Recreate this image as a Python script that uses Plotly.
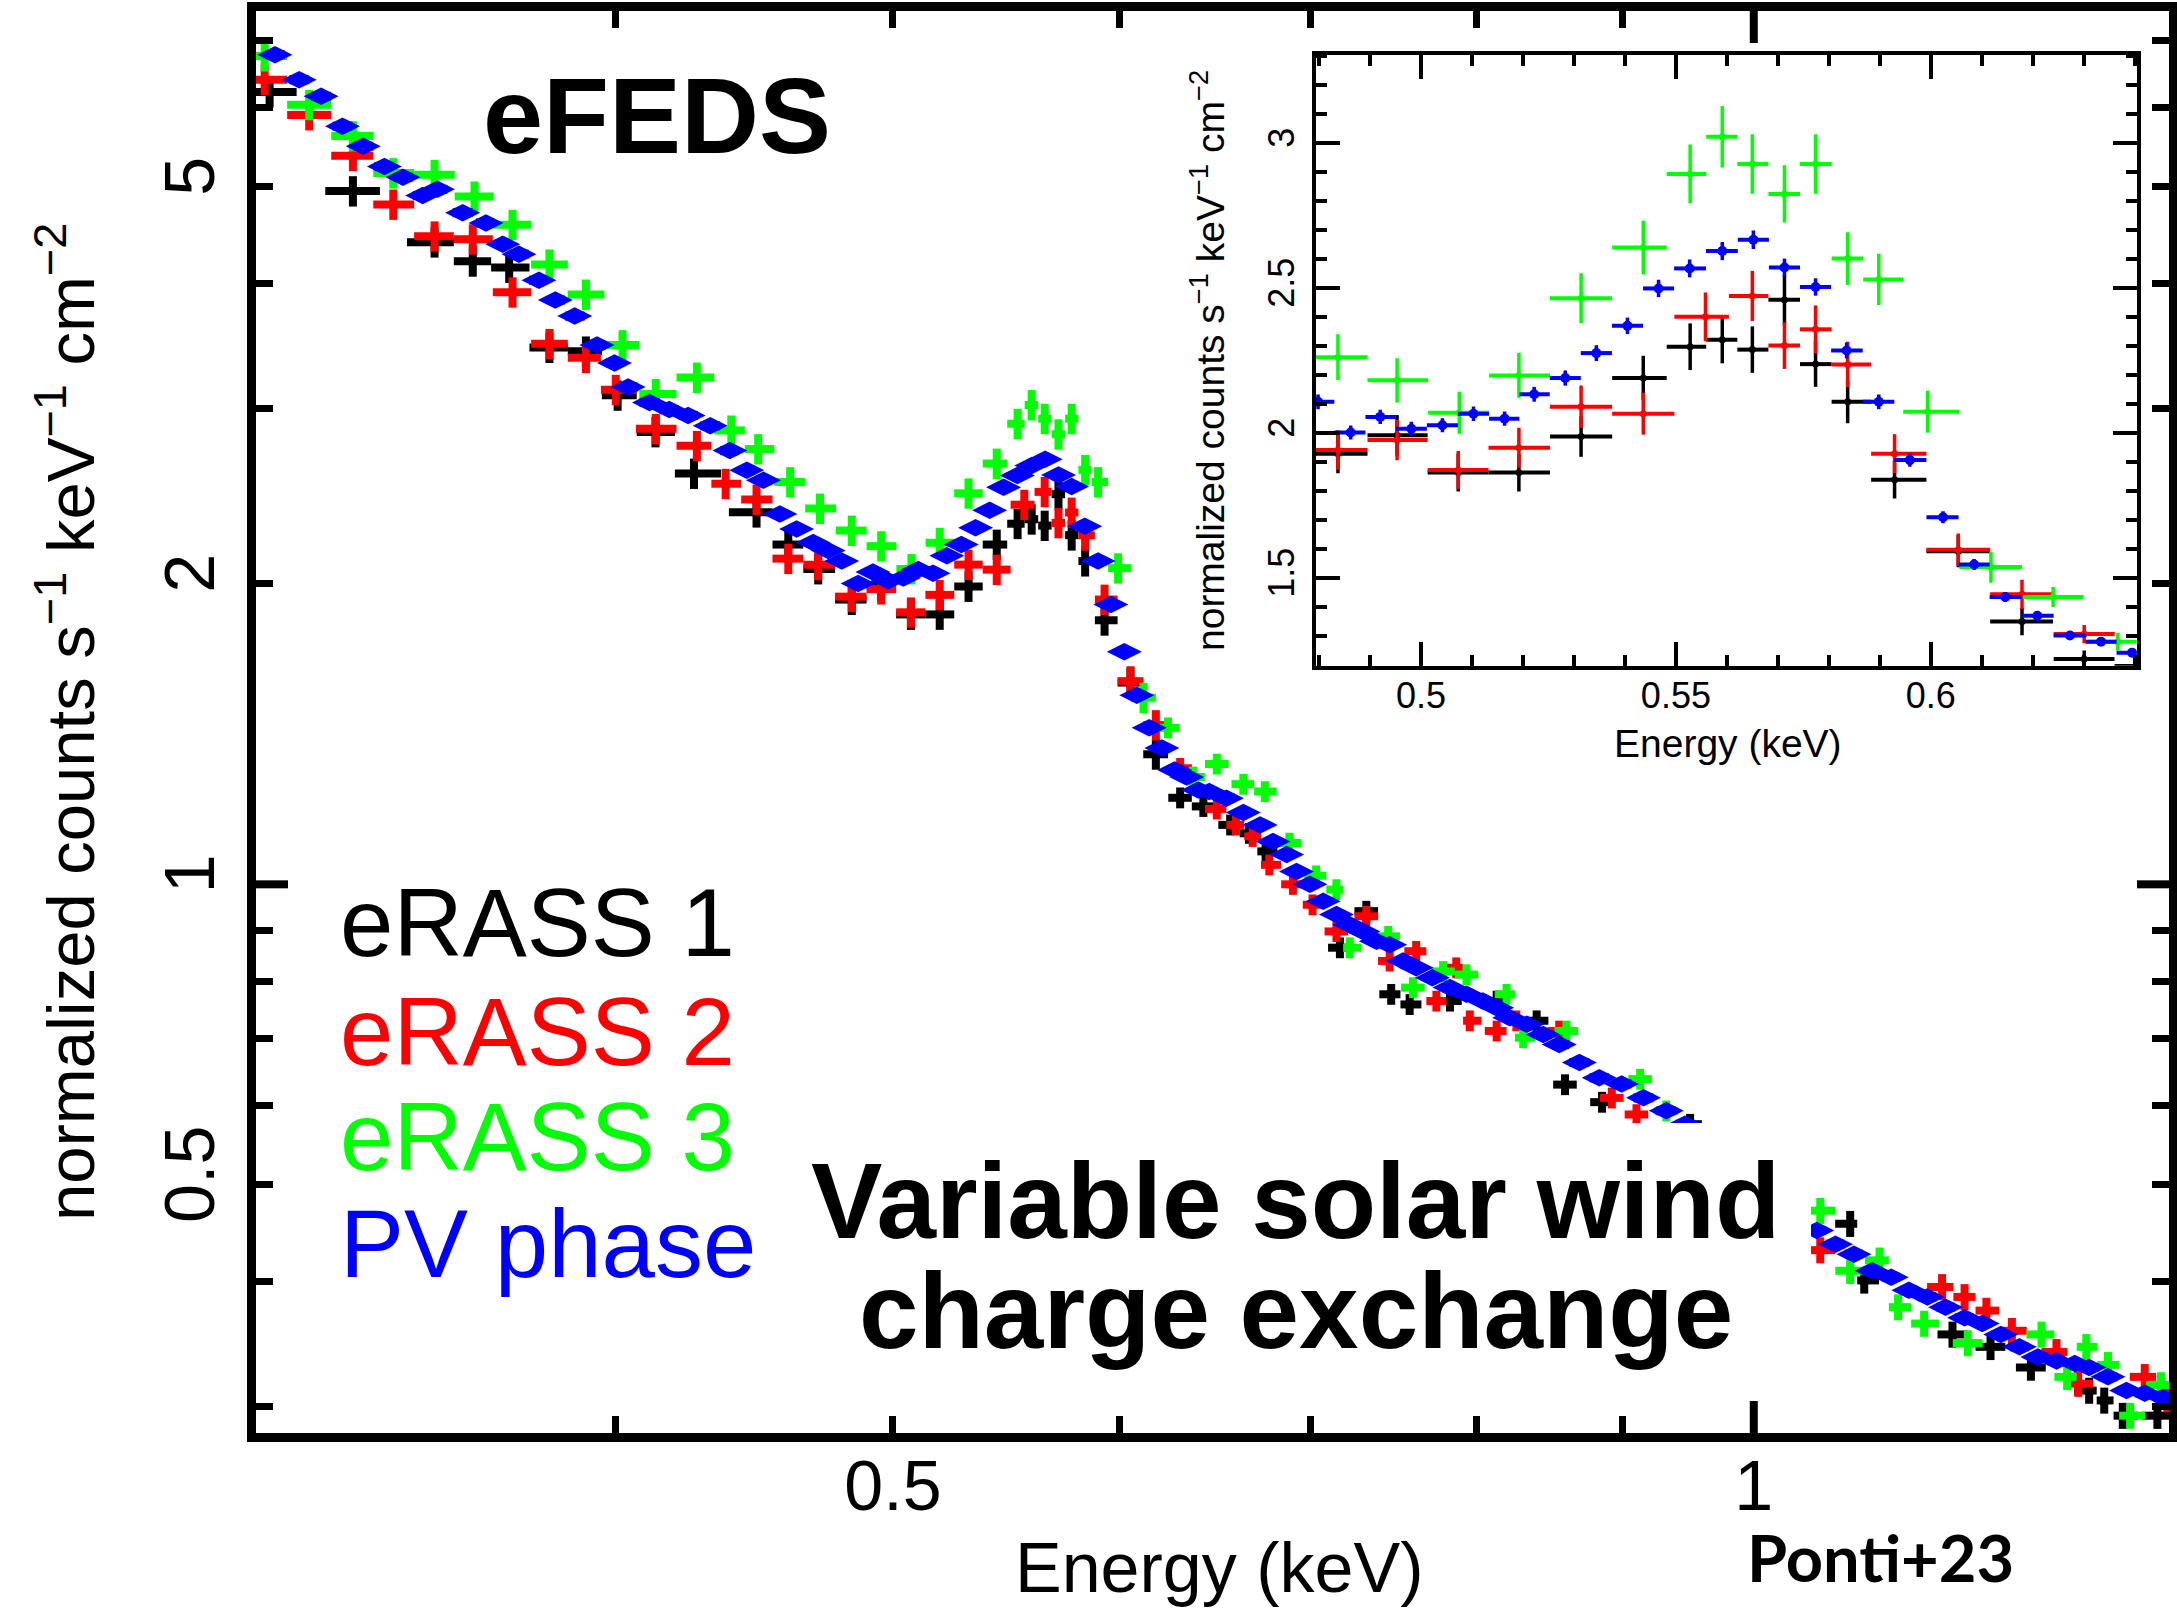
import numpy as np
import plotly.graph_objects as go

# ---------------- data ----------------
# Energy (keV) and normalized counts s^-1 keV^-1 cm^-2
ERASS1_E = [0.3027, 0.3237, 0.3457, 0.3565, 0.3671, 0.3792, 0.3905, 0.4006, 0.413, 0.426,
            0.448, 0.4596, 0.4708, 0.4837, 0.4953, 0.5073, 0.5192, 0.5314, 0.5436, 0.5528,
            0.5591, 0.565, 0.5713, 0.5774, 0.5837, 0.5929, 0.6054, 0.6179, 0.6301, 0.642,
            0.656, 0.666, 0.675, 0.7166, 0.732, 0.7468, 0.758, 0.783, 0.813, 0.8396,
            0.859, 0.885, 0.950, 1.0807, 1.093, 1.1735, 1.210, 1.25, 1.310, 1.326,
            1.346, 1.384]
ERASS1_V = [6.22, 4.95, 4.40, 4.21, 4.15, 3.45, 3.42, 3.09, 2.84, 2.58,
            2.36, 2.19, 2.07, 1.929, 1.993, 1.864, 1.864, 1.988, 2.190, 2.298,
            2.322, 2.288, 2.460, 2.238, 2.108, 1.839, 1.593, 1.350, 1.221, 1.197,
            1.147, 1.125, 1.079, 0.864, 0.940, 0.776, 0.758, 0.764, 0.764, 0.730,
            0.63, 0.605, 0.575, 0.457, 0.401, 0.354, 0.344, 0.328, 0.311, 0.304,
            0.2935, 0.2935]

ERASS2_E = [0.3015, 0.3125, 0.3237, 0.3344, 0.3457, 0.3565, 0.3681, 0.3792, 0.3905, 0.4000,
            0.4131, 0.427, 0.437, 0.448, 0.4596, 0.4708, 0.4837, 0.4953, 0.5073, 0.5192,
            0.5314, 0.5436, 0.5558, 0.565, 0.5713, 0.5774, 0.5837, 0.5929, 0.6054, 0.6179,
            0.6301, 0.649, 0.659, 0.668, 0.677, 0.690, 0.701, 0.7146, 0.732, 0.7459,
            0.762, 0.7745, 0.787, 0.7956, 0.813, 0.826, 0.855, 0.892, 0.9099, 1.055,
            1.1637, 1.185, 1.206, 1.231, 1.276, 1.2985, 1.370, 1.395]
ERASS2_V = [6.40, 5.90, 5.37, 4.80, 4.46, 4.43, 3.92, 3.48, 3.37, 3.13,
            2.86, 2.75, 2.52, 2.43, 2.12, 2.09, 1.942, 1.976, 1.873, 1.950,
            2.091, 2.067, 2.401, 2.473, 2.302, 2.358, 2.237, 1.929, 1.598, 1.444,
            1.307, 1.19, 1.147, 1.117, 1.046, 1.00, 0.954, 0.897, 0.929, 0.838,
            0.857, 0.764, 0.825, 0.730, 0.713, 0.730, 0.713, 0.611, 0.588, 0.430,
            0.395, 0.386, 0.374, 0.357, 0.340, 0.316, 0.321, 0.305]

ERASS3_E = [0.3015, 0.3125, 0.3237, 0.3344, 0.3457, 0.357, 0.3681, 0.3792, 0.3905, 0.4022,
            0.4131, 0.427, 0.439, 0.4486, 0.4603, 0.4715, 0.4837, 0.4953, 0.5075, 0.5192,
            0.5314, 0.5436, 0.5528, 0.5591, 0.565, 0.5713, 0.5774, 0.5837, 0.5898, 0.5994,
            0.6118, 0.624, 0.6367, 0.649, 0.663, 0.6746, 0.688, 0.703, 0.7146, 0.7223,
            0.745, 0.760, 0.7787, 0.7935, 0.8195, 0.8306, 0.860, 0.9126, 0.932, 1.055,
            1.0807, 1.1066, 1.1232, 1.147, 1.188, 1.2607, 1.287, 1.307, 1.33, 1.354, 1.388]
ERASS3_V = [6.76, 6.04, 5.62, 5.16, 5.14, 4.89, 4.58, 4.18, 3.90, 3.47,
            3.10, 3.22, 2.85, 2.73, 2.53, 2.38, 2.262, 2.182, 2.070, 2.199,
            2.465, 2.640, 2.894, 3.022, 2.928, 2.825, 2.928, 2.602, 2.530, 2.074,
            1.538, 1.435, 1.281, 1.32, 1.26, 1.239, 1.10, 1.02, 0.988, 0.864,
            0.887, 0.788, 0.818, 0.812, 0.776, 0.702, 0.713, 0.638, 0.593, 0.471,
            0.410, 0.420, 0.377, 0.363, 0.347, 0.354, 0.321, 0.344, 0.33, 0.2935, 0.315]

PV_E = [0.304, 0.310, 0.3155, 0.321, 0.3264, 0.332, 0.337, 0.3424, 0.3465, 0.3536,
        0.3603, 0.3652, 0.370, 0.376, 0.381, 0.387, 0.394, 0.3996, 0.404, 0.411,
        0.4176, 0.424, 0.4316, 0.4385, 0.4445, 0.4505, 0.4565, 0.4627, 0.4689, 0.4746,
        0.4798, 0.4862, 0.492, 0.4981, 0.5042, 0.5103, 0.5164, 0.5222, 0.5283, 0.5344,
        0.5405, 0.5466, 0.5527, 0.5591, 0.5652, 0.5713, 0.5774, 0.5835, 0.5898, 0.5959,
        0.6024, 0.6085, 0.6146, 0.6209, 0.6273, 0.6334, 0.6395, 0.645, 0.654, 0.663,
        0.672, 0.679, 0.6865, 0.692, 0.6995, 0.707, 0.7146, 0.7223, 0.730, 0.738,
        0.7459, 0.754, 0.762, 0.772, 0.783, 0.7935, 0.804, 0.813, 0.8216, 0.833,
        0.844, 0.855, 0.869, 0.883, 0.899, 0.915, 0.932, 0.946, 1.052, 1.068,
        1.084, 1.100, 1.117, 1.133, 1.150, 1.167, 1.185, 1.202, 1.220, 1.2385,
        1.257, 1.276, 1.295, 1.310, 1.330, 1.350, 1.370, 1.390]
PV_V = [6.78, 6.40, 6.16, 5.75, 5.49, 5.24, 5.11, 4.90, 4.97, 4.71,
        4.60, 4.38, 4.28, 4.03, 3.85, 3.71, 3.47, 3.33, 3.15, 3.04,
        2.99, 2.95, 2.88, 2.72, 2.60, 2.54, 2.35, 2.27, 2.20, 2.16,
        2.108, 2.002, 2.056, 2.015, 2.027, 2.067, 2.050, 2.134, 2.190, 2.276,
        2.370, 2.499, 2.568, 2.628, 2.667, 2.571, 2.504, 2.285, 2.108, 1.907,
        1.710, 1.547, 1.435, 1.370, 1.302, 1.281, 1.243, 1.239, 1.22, 1.18,
        1.147, 1.104, 1.071, 1.03, 1.00, 0.962, 0.933, 0.911, 0.897, 0.877,
        0.870, 0.838, 0.825, 0.806, 0.788, 0.776, 0.764, 0.752, 0.735, 0.724,
        0.707, 0.691, 0.663, 0.640, 0.631, 0.611, 0.593, 0.575, 0.450, 0.436,
        0.426, 0.410, 0.404, 0.392, 0.386, 0.377, 0.368, 0.363, 0.354, 0.344,
        0.336, 0.333, 0.331, 0.328, 0.321, 0.311, 0.309, 0.306]

SERIES_NAMES = ["eRASS 1", "eRASS 2", "eRASS 3", "PV phase"]
SERIES_COLORS = ["#000000", "#ff0000", "#00ff00", "#0000ff"]

MAIN_X_TICKS = [0.5, 1]
MAIN_X_MINOR = [0.4, 0.6, 0.7, 0.8, 0.9]
MAIN_Y_TICKS = [0.5, 1, 2, 5]
MAIN_Y_MINOR = [0.3, 0.4, 0.6, 0.7, 0.8, 0.9, 3, 4, 6, 7]
INSET_X_TICKS = [0.5, 0.55, 0.6]
INSET_Y_TICKS = [1.5, 2, 2.5, 3]

MAIN_X_RANGE = (0.2994, 1.397)
MAIN_Y_RANGE = (0.282, 7.5)
INSET_X_RANGE = (0.4793, 0.6404)
INSET_Y_RANGE = (1.198, 3.305)

# ---------------- geometry helpers ----------------
W, H = 2177, 1613
ML, MR, MT, MB = 256, 8, 11, 180
PW, PH = W - ML - MR, H - MT - MB


def pxx(xp):
    return (xp - ML) / PW


def pxy(yp):
    return (H - MB - yp) / PH


def bin_halfwidths(E, cap_fn):
    E = np.asarray(E, dtype=float)
    n = len(E)
    lo, hi = np.zeros(n), np.zeros(n)
    for i in range(n):
        cap = cap_fn(E[i]) * E[i]
        gl = (E[i] - E[i - 1]) / 2 if i > 0 else cap
        gr = (E[i + 1] - E[i]) / 2 if i < n - 1 else cap
        lo[i] = min(gl, cap)
        hi[i] = min(gr, cap)
    return lo, hi


def cross_xcap(e):
    return 0.022 if e < 0.62 else (0.0095 if e < 1.0 else 0.012)


def cross_yrel(e):
    return 0.035 if e < 0.62 else (0.024 if e < 1.0 else 0.03)


def pv_xcap(e):
    return 0.008


def pv_yrel(e):
    return 0.012


datasets = [
    (ERASS1_E, ERASS1_V, cross_xcap, cross_yrel),
    (ERASS2_E, ERASS2_V, cross_xcap, cross_yrel),
    (ERASS3_E, ERASS3_V, cross_xcap, cross_yrel),
    (PV_E, PV_V, pv_xcap, pv_yrel),
]

fig = go.Figure()

# main panel traces
for k, (E, V, xc, yr) in enumerate(datasets):
    col = SERIES_COLORS[k]
    lo, hi = bin_halfwidths(E, xc)
    ey = [yr(e) * v for e, v in zip(E, V)]
    is_pv = SERIES_NAMES[k] == "PV phase"
    fig.add_trace(go.Scatter(
        x=E, y=V, mode="markers", name=SERIES_NAMES[k],
        marker=dict(size=25 if is_pv else 8, symbol="diamond-wide" if is_pv else "square",
                    color=col, line=dict(width=0)),
        error_x=dict(type="data", symmetric=False, array=hi, arrayminus=lo,
                     color=col, thickness=9 if is_pv else 8, width=0),
        error_y=dict(type="data", array=ey, color=col, thickness=8, width=0),
        xaxis="x", yaxis="y", showlegend=False, hoverinfo="skip"))

# inset traces
for k, (E, V, xc, yr) in enumerate(datasets):
    col = SERIES_COLORS[k]
    lo, hi = bin_halfwidths(E, xc)
    Ea = np.asarray(E)
    Va = np.asarray(V)
    sel = (Ea > 0.47) & (Ea < 0.65)
    ey = np.array([yr(e) * v for e, v in zip(E, V)])
    is_pv = SERIES_NAMES[k] == "PV phase"
    fig.add_trace(go.Scatter(
        x=Ea[sel], y=Va[sel], mode="markers",
        marker=dict(size=10 if is_pv else 7, symbol="circle", color=col, line=dict(width=0)),
        error_x=dict(type="data", symmetric=False, array=hi[sel], arrayminus=lo[sel],
                     color=col, thickness=4, width=0),
        error_y=dict(type="data", array=ey[sel], color=col, thickness=3.5, width=0),
        xaxis="x2", yaxis="y2", showlegend=False, hoverinfo="skip"))

FONT = "Liberation Sans, Arial, Helvetica, sans-serif"

main_axis_common = dict(
    type="log", showline=True, linewidth=9, linecolor="black", mirror="allticks",
    ticks="inside", ticklen=17, tickwidth=7, tickcolor="black",
    showgrid=False, zeroline=False, tickfont=dict(size=70, family=FONT, color="black"),
)
inset_axis_common = dict(
    showline=True, linewidth=4, linecolor="black", mirror="allticks",
    ticks="inside", ticklen=24, tickwidth=3.5, tickcolor="black",
    showgrid=False, zeroline=False, tickfont=dict(size=36, family=FONT, color="black"),
)

fig.update_layout(
    width=W, height=H,
    margin=dict(l=ML, r=MR, t=MT, b=MB, autoexpand=False),
    paper_bgcolor="white", plot_bgcolor="white", showlegend=False,
    font=dict(family=FONT, color="black"),
    xaxis=dict(**main_axis_common, domain=[0, 1], anchor="y",
               range=[np.log10(MAIN_X_RANGE[0]), np.log10(MAIN_X_RANGE[1])],
               tickmode="array", tickvals=MAIN_X_TICKS, ticktext=[f"{t:g}" for t in MAIN_X_TICKS],
               ticklabelstandoff=-16,
               minor=dict(tickmode="array", tickvals=MAIN_X_MINOR, ticks="inside", ticklen=17,
                          tickwidth=7, tickcolor="black", showgrid=False)),
    yaxis=dict(**main_axis_common, domain=[0, 1], anchor="x",
               range=[np.log10(MAIN_Y_RANGE[0]), np.log10(MAIN_Y_RANGE[1])],
               tickmode="array", tickvals=MAIN_Y_TICKS, ticktext=[f"{t:g}" for t in MAIN_Y_TICKS],
               tickangle=-90, ticklabelstandoff=5,
               minor=dict(tickmode="array", tickvals=MAIN_Y_MINOR, ticks="inside", ticklen=17,
                          tickwidth=7, tickcolor="black", showgrid=False)),
    xaxis2=dict(**inset_axis_common, domain=[pxx(1315.5), pxx(2136.7)], anchor="y2",
                range=list(INSET_X_RANGE), tickmode="array", tickvals=INSET_X_TICKS,
                ticktext=[f"{t:g}" for t in INSET_X_TICKS], ticklabelstandoff=-5,
                minor=dict(tickmode="linear", tick0=0.5, dtick=0.01, ticks="inside", ticklen=11,
                           tickwidth=3.5, tickcolor="black", showgrid=False)),
    yaxis2=dict(**inset_axis_common, domain=[pxy(665.7), pxy(54.7)], anchor="x2",
                range=list(INSET_Y_RANGE), tickmode="array", tickvals=INSET_Y_TICKS,
                ticktext=[f"{t:g}" for t in INSET_Y_TICKS], tickangle=-90, ticklabelstandoff=3,
                minor=dict(tickmode="linear", tick0=1.0, dtick=0.1, ticks="inside", ticklen=11,
                           tickwidth=3.5, tickcolor="black", showgrid=False)),
)

# long decade ticks at 1 on the main axes
LT_X = 32 / PH
LT_Y = 32 / PW
shapes = [
    dict(type="line", xref="x", yref="paper", x0=1, x1=1, y0=0, y1=LT_X, line=dict(color="black", width=8)),
    dict(type="line", xref="x", yref="paper", x0=1, x1=1, y0=1 - LT_X, y1=1, line=dict(color="black", width=8)),
    dict(type="line", xref="paper", yref="y", y0=1, y1=1, x0=0, x1=LT_Y, line=dict(color="black", width=8)),
    dict(type="line", xref="paper", yref="y", y0=1, y1=1, x0=1 - LT_Y, x1=1, line=dict(color="black", width=8)),
    # opaque white panel behind the caption
    dict(type="rect", xref="paper", yref="paper", x0=pxx(780), x1=pxx(1811), y0=pxy(1390), y1=pxy(1123),
         fillcolor="white", line=dict(width=0), layer="above"),
]
fig.update_layout(shapes=shapes)

ann = []
# axis titles
ann.append(dict(text="Energy (keV)", xref="paper", yref="paper", x=pxx(1219), y=pxy(1568),
                xanchor="center", yanchor="middle", showarrow=False, font=dict(size=70, family=FONT)))
ann.append(dict(text="normalized counts s<sup>−1</sup> keV<sup>−1</sup> cm<sup>−2</sup>",
                xref="paper", yref="paper", x=pxx(66), y=pxy(722), textangle=-90,
                xanchor="center", yanchor="middle", showarrow=False, font=dict(size=67, family=FONT)))
ann.append(dict(text="Energy (keV)", xref="paper", yref="paper", x=pxx(1728), y=pxy(744),
                xanchor="center", yanchor="middle", showarrow=False, font=dict(size=39, family=FONT)))
ann.append(dict(text="normalized counts s<sup>−1</sup> keV<sup>−1</sup> cm<sup>−2</sup>",
                xref="paper", yref="paper", x=pxx(1208), y=pxy(361), textangle=-90,
                xanchor="center", yanchor="middle", showarrow=False, font=dict(size=39, family=FONT)))
# labels
ann.append(dict(text="<b>eFEDS</b>", xref="paper", yref="paper", x=pxx(657), y=pxy(116),
                xanchor="center", yanchor="middle", showarrow=False, font=dict(size=108, family=FONT)))
ann.append(dict(text="<b>Variable solar wind</b>", xref="paper", yref="paper", x=pxx(1295), y=pxy(1201),
                xanchor="center", yanchor="middle", showarrow=False, font=dict(size=107, family=FONT)))
ann.append(dict(text="<b>charge exchange</b>", xref="paper", yref="paper", x=pxx(1296), y=pxy(1311),
                xanchor="center", yanchor="middle", showarrow=False, font=dict(size=107, family=FONT)))
leg_y = [922, 1031, 1136, 1243]
for name, col, yy in zip(SERIES_NAMES, SERIES_COLORS, leg_y):
    ann.append(dict(text=name, xref="paper", yref="paper", x=pxx(338), y=pxy(yy),
                    xanchor="left", yanchor="middle", showarrow=False,
                    font=dict(size=96, family=FONT, color=col)))
ann.append(dict(text="<b>Ponti+23</b>", xref="paper", yref="paper", x=pxx(1880), y=pxy(1557),
                xanchor="center", yanchor="middle", showarrow=False,
                font=dict(size=65, family="Lato, Open Sans, sans-serif", color="black")))
fig.update_layout(annotations=ann)

fig.write_html("out.html")
